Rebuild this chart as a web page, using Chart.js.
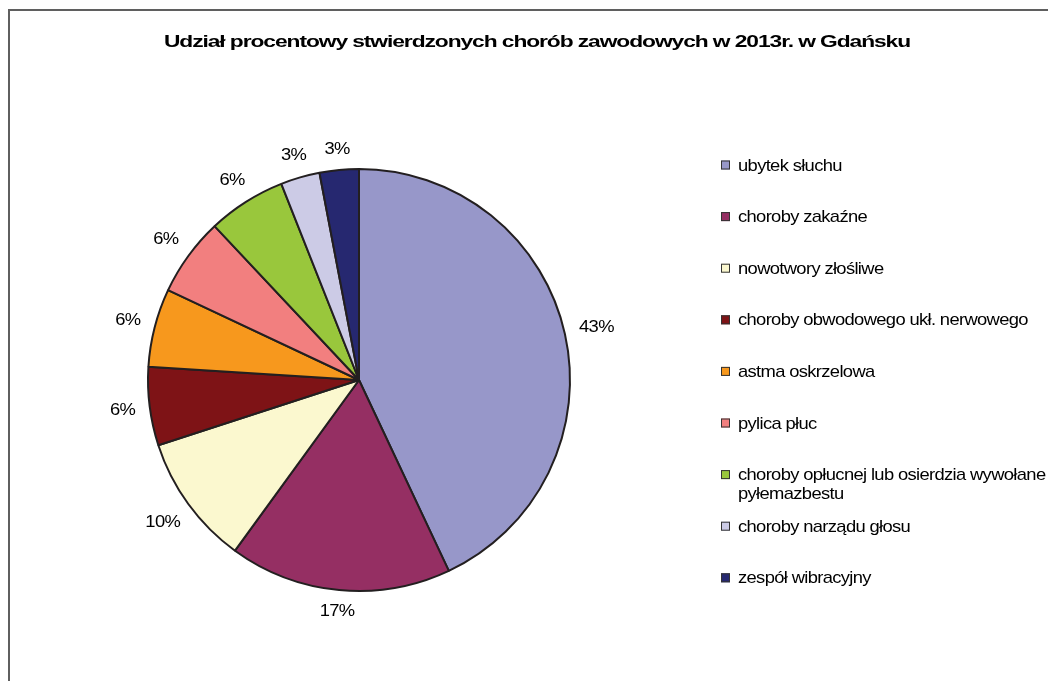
<!DOCTYPE html>
<html>
<head>
<meta charset="utf-8">
<script src="https://cdn.jsdelivr.net/npm/chart.js@4.4.0/dist/chart.umd.min.js"></script>
<style>
  html, body { margin: 0; padding: 0; background: #fff; }
  canvas { display: block; }
</style>
</head>
<body>
<canvas id="chorobyChart" width="1048" height="681"></canvas>
<script>
const chartTitle = 'Udział procentowy stwierdzonych chorób zawodowych w 2013r. w Gdańsku';

const categories = [
    'ubytek słuchu',
    'choroby zakaźne',
    'nowotwory złośliwe',
    'choroby obwodowego ukł. nerwowego',
    'astma oskrzelowa',
    'pylica płuc',
    'choroby opłucnej lub osierdzia wywołane pyłemazbestu',
    'choroby narządu głosu',
    'zespół wibracyjny'
];

// udział w procentach
const shares = [43, 17, 10, 6, 6, 6, 6, 3, 3];

const sliceColors = [
    '#9797c9', '#952f63', '#fbf8cf', '#7e1316', '#f7981d',
    '#f27f7f', '#99c73c', '#cccbe6', '#262870'
];

const FONT = '"Liberation Sans", Arial, sans-serif';

// Excel-like wide glyphs: draw text stretched horizontally, tightly spaced
function stretchedText(ctx, text, x, y, sx, align) {
    ctx.save();
    ctx.translate(x, y);
    ctx.scale(sx, 1);
    ctx.textAlign = align;
    ctx.fillText(text, 0, 0);
    ctx.restore();
}

function wrapWords(ctx, text, maxWidth, sx) {
    const words = text.split(' ');
    const lines = [];
    let line = '';
    words.forEach(function (w) {
        const test = line ? line + ' ' + w : w;
        if (line && ctx.measureText(test).width * sx > maxWidth) {
            lines.push(line);
            line = w;
        } else {
            line = test;
        }
    });
    if (line) lines.push(line);
    return lines;
}

const excelDecor = {
    id: 'excelDecor',

    beforeDraw(chart) {
        const ctx = chart.ctx;
        ctx.save();
        ctx.fillStyle = '#fff';
        ctx.fillRect(0, 0, chart.width, chart.height);
        // ramka wykresu (prawa i dolna krawędź poza obrazem)
        ctx.fillStyle = '#5f5f5f';
        ctx.fillRect(8, 9, chart.width, 2);
        ctx.fillRect(8, 9, 2, chart.height);
        ctx.restore();
    },

    afterDatasetsDraw(chart) {
        const ctx = chart.ctx;
        const meta = chart.getDatasetMeta(0);
        const sx = 1.08;
        ctx.save();
        ctx.font = '17px ' + FONT;
        ctx.letterSpacing = '-0.6px';
        ctx.fillStyle = '#000';
        ctx.textBaseline = 'middle';
        meta.data.forEach(function (arc, i) {
            const p = arc.getProps(['x', 'y', 'startAngle', 'endAngle', 'outerRadius'], true);
            const mid = (p.startAngle + p.endAngle) / 2;
            const text = shares[i] + '%';
            const w = ctx.measureText(text).width * sx;
            const cos = Math.cos(mid), sin = Math.sin(mid);
            const dist = p.outerRadius + 14 + Math.abs(cos) * w / 2 + Math.abs(sin) * 6;
            stretchedText(ctx, text, p.x + cos * dist, p.y + sin * dist, sx, 'center');
        });
        ctx.restore();
    },

    afterDraw(chart) {
        const ctx = chart.ctx;
        ctx.save();

        // tytuł
        ctx.fillStyle = '#000';
        ctx.font = 'bold 17px ' + FONT;
        ctx.letterSpacing = '-0.8px';
        ctx.textBaseline = 'alphabetic';
        stretchedText(ctx, chartTitle, 537, 47, 1.34, 'center');

        // legenda
        const sx = 1.08;
        ctx.font = '17px ' + FONT;
        ctx.letterSpacing = '-0.6px';
        categories.forEach(function (label, i) {
            const yc = 165 + i * 51.6;
            ctx.fillStyle = sliceColors[i];
            ctx.fillRect(721, yc - 4.5, 9, 9);
            ctx.strokeStyle = '#333';
            ctx.lineWidth = 1;
            ctx.strokeRect(721.5, yc - 4, 8, 8);

            ctx.fillStyle = '#000';
            const lines = wrapWords(ctx, label, 340, sx);
            lines.forEach(function (ln, k) {
                stretchedText(ctx, ln, 738, yc + 5.5 + k * 19, sx, 'left');
            });
        });
        ctx.restore();
    }
};

new Chart(document.getElementById('chorobyChart'), {
    type: 'pie',
    data: {
        labels: categories,
        datasets: [{
            data: shares,
            backgroundColor: sliceColors,
            borderColor: '#231f20',
            borderWidth: 2
        }]
    },
    options: {
        responsive: false,
        animation: false,
        layout: {
            padding: { left: 147, top: 168, right: 477, bottom: 89 }
        },
        plugins: {
            legend: { display: false },
            title: { display: false },
            tooltip: { enabled: false }
        }
    },
    plugins: [excelDecor]
});
</script>
</body>
</html>
